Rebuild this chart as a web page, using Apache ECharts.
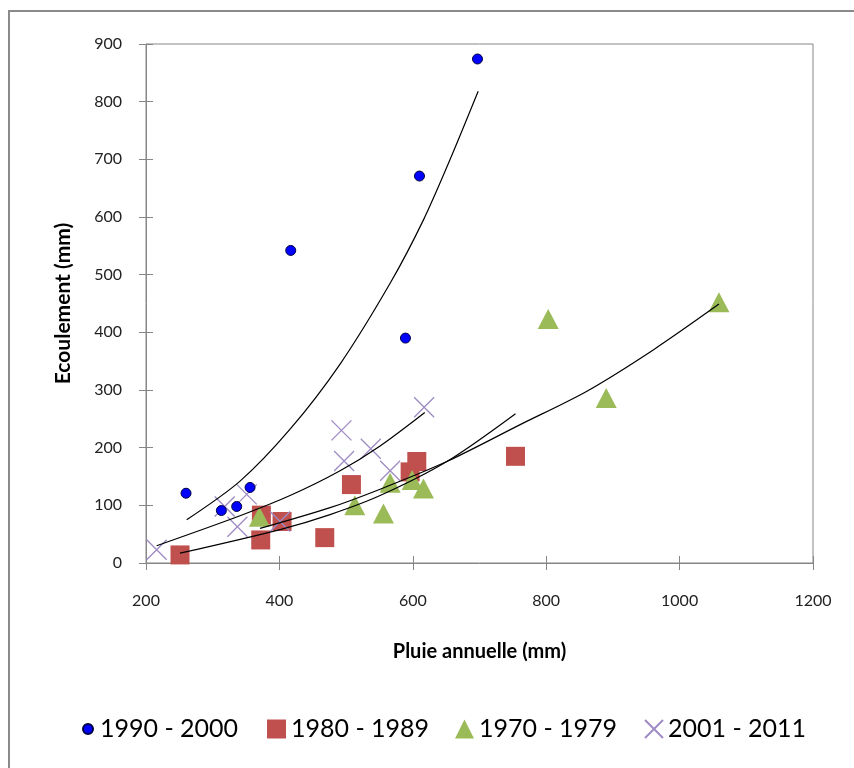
<!DOCTYPE html>
<html>
<head>
<meta charset="utf-8">
<script src="https://cdn.jsdelivr.net/npm/echarts@6/dist/echarts.min.js"></script>
<style>
html,body{margin:0;padding:0;background:#fff;}
#chart{width:854px;height:768px;}
</style>
</head>
<body>
<div id="chart"></div>
<script>
// ---- data ----
const seriesNames = ['1990 - 2000', '1980 - 1989', '1970 - 1979', '2001 - 2011'];
const s1990 = [[260,121],[313,91],[336,98],[356,131],[417,542],[589,390],[610,671],[697,874]];
const s1980 = [[251,14],[373,83],[372,40],[404,72],[468,44],[508,136],[596,158],[606,176],[754,185]];
const s1970 = [[370,80],[513,100],[556,86],[566,139],[599,144],[616,129],[803,423],[890,286],[1059,452]];
const s2001 = [[216,23],[318,98],[337,63],[351,119],[401,72],[493,230],[497,177],[537,198],[566,160],[617,270]];
// trend curves, points
const trend1990 = [[261,75],[341,142],[416,232],[491,345],[566,485],[616,595],[656,700],[698,818]];
const trend1980 = [[251,17],[401,58],[476,84],[551,117],[651,176],[754,259]];
const trend1970 = [[371,60],[476,96],[551,128],[651,176],[761,240],[861,298],[961,370],[1059,449]];
const trend2001 = [[216,30],[341,82],[416,117],[491,160],[551,203],[618,261]];
const xTicks = {min:200, max:1200, interval:200};
const yTicks = {min:0, max:900, interval:100};
const xTitle = 'Pluie annuelle (mm)';
const yTitle = 'Ecoulement (mm)';

const FONT = 'Lato';
const axisGray = '#868686';
const xSym = 'path://M0,0L20,20M20,0L0,20';

const chart = echarts.init(document.getElementById('chart'));
function legendAt(name, left, w, h, pad) {
  return {
    data: [name], left: left, top: 716, orient: 'horizontal', padding: 0,
    itemWidth: w, itemHeight: h, itemGap: 0, selectedMode: false,
    textStyle: {fontFamily: FONT, fontSize: 25, color: '#000', lineHeight: 26, padding: [0,0,0,pad]}
  };
}
function trend(data) {
  return {type:'line', data: data, smooth: 0.3, showSymbol: false, symbol:'none', silent: true,
    lineStyle: {color:'#000', width: 1.2}, z: 5, xAxisIndex: 0, yAxisIndex: 0, legendHoverLink:false};
}
const option = {
  animation: false,
  backgroundColor: '#fff',
  graphic: [{type:'rect', shape:{x:9, y:11, width:900, height:900}, style:{fill:'none', stroke:'#8a8a8a', lineWidth:2}, z:-1}],
  grid: {left:146, top:44, right:41, bottom:205, show:true, borderColor: axisGray, borderWidth:1, backgroundColor:'transparent'},
  legend: [
    legendAt(seriesNames[0], 82, 10, 10, 2),
    legendAt(seriesNames[1], 267, 19, 19, 0),
    legendAt(seriesNames[2], 455, 19, 19, 0),
    legendAt(seriesNames[3], 644, 18, 18, 0)
  ],
  xAxis: [{
    type:'value', position:'bottom', min:xTicks.min, max:xTicks.max, interval:xTicks.interval,
    name: xTitle, nameLocation:'middle', nameGap: 79,
    nameTextStyle:{fontFamily:FONT, fontWeight:'bold', fontSize:20, color:'#000'},
    axisLine:{show:true, lineStyle:{color:axisGray, width:1}},
    axisTick:{show:true, inside:false, length:7, lineStyle:{color:axisGray}},
    axisLabel:{fontFamily:FONT, fontSize:16, color:'#222', margin:30, formatter: v => String(v)},
    splitLine:{show:false}
  },{
    type:'value', position:'bottom', min:xTicks.min, max:xTicks.max, interval:xTicks.interval,
    axisLine:{show:false}, axisTick:{show:true, inside:true, length:7, lineStyle:{color:axisGray}},
    axisLabel:{show:false}, splitLine:{show:false}
  }],
  yAxis: [{
    type:'value', position:'left', min:yTicks.min, max:yTicks.max, interval:yTicks.interval,
    name: yTitle, nameLocation:'middle', nameGap: 72, nameRotate: 90,
    nameTextStyle:{fontFamily:FONT, fontWeight:'bold', fontSize:21, color:'#000'},
    axisLine:{show:true, lineStyle:{color:axisGray, width:1}},
    axisTick:{show:true, inside:false, length:7, lineStyle:{color:axisGray}},
    axisLabel:{fontFamily:FONT, fontSize:16, color:'#222', margin:24, formatter: v => String(v)},
    splitLine:{show:false}
  },{
    type:'value', position:'left', min:yTicks.min, max:yTicks.max, interval:yTicks.interval,
    axisLine:{show:false}, axisTick:{show:true, inside:true, length:7, lineStyle:{color:axisGray}},
    axisLabel:{show:false}, splitLine:{show:false}
  }],
  series: [
    {name: seriesNames[1], type:'scatter', data: s1980, symbol:'rect', symbolSize:19,
      itemStyle:{color:'#C0504D', opacity:1}, z:2},
    {name: seriesNames[2], type:'scatter', data: s1970, symbol:'triangle', symbolSize:[21,20],
      itemStyle:{color:'#9BBB59', opacity:1}, z:2},
    {name: seriesNames[3], type:'scatter', data: s2001, symbol: xSym, symbolSize:20,
      itemStyle:{color:'transparent', borderColor:'#9E8BC4', borderWidth:1.3, opacity:1}, z:3},
    {name: seriesNames[0], type:'scatter', data: s1990, symbol:'circle', symbolSize:10,
      itemStyle:{color:'#0000FF', borderColor:'#000040', borderWidth:1, opacity:1}, z:4},
    trend(trend1990), trend(trend1980), trend(trend1970), trend(trend2001)
  ]
};
chart.setOption(option);
</script>
</body>
</html>
